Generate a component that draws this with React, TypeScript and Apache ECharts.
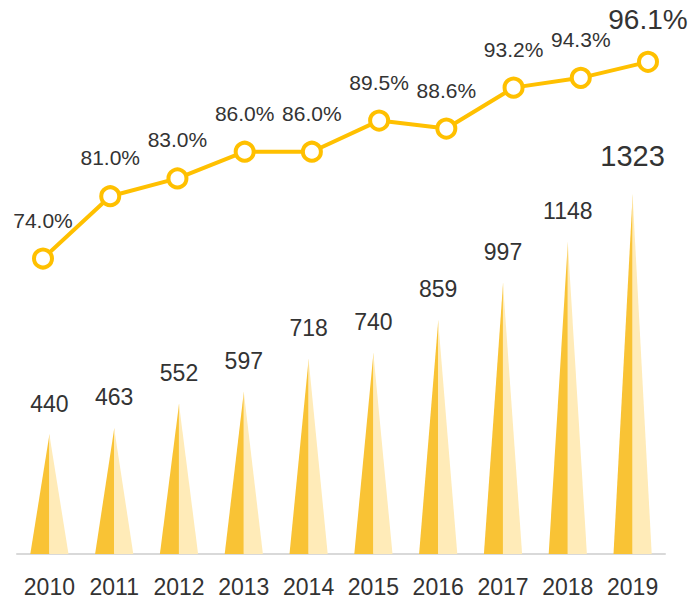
import React, { useEffect, useRef } from "react";
import * as echarts from "echarts";

const years = ["2010", "2011", "2012", "2013", "2014", "2015", "2016", "2017", "2018", "2019"];
const counts = [440, 463, 552, 597, 718, 740, 859, 997, 1148, 1323];
const rates = [74.0, 81.0, 83.0, 86.0, 86.0, 89.5, 88.6, 93.2, 94.3, 96.1];

const FONT = "'Liberation Sans', Arial, sans-serif";

export default function App() {
  const ref = useRef<HTMLDivElement>(null);
  useEffect(() => {
    if (!ref.current) return;
    const chart = echarts.init(ref.current, null, { renderer: "svg" });
    const last = counts.length - 1;
    chart.setOption({
      animation: false,
      grid: [
        { left: 17, right: 24, top: 20, bottom: 45 },
        { left: 43, right: 41, top: 20, bottom: 45 },
      ],
      xAxis: [
        {
          type: "category",
          data: years,
          gridIndex: 0,
          axisLine: { lineStyle: { color: "#d9d9d9", width: 2 } },
          axisTick: { show: false },
          axisLabel: { interval: 0, color: "#333", fontSize: 23, margin: 21, fontFamily: FONT },
        },
        {
          type: "category",
          data: years,
          gridIndex: 1,
          boundaryGap: false,
          show: false,
        },
      ],
      yAxis: [
        { type: "value", gridIndex: 0, min: 0, max: 1960, show: false },
        { type: "value", gridIndex: 1, min: 40.8, max: 100.8, show: false },
      ],
      series: [
        {
          type: "pictorialBar",
          xAxisIndex: 0,
          yAxisIndex: 0,
          barWidth: 38,
          barGap: "-100%",
          symbol: "path://M1,0 L1,1 L0,1 Z",
          symbolSize: [19, "100%"],
          symbolOffset: ["-50%", 0],
          itemStyle: { color: "#F9C335" },
          data: counts,
          z: 2,
        },
        {
          type: "pictorialBar",
          xAxisIndex: 0,
          yAxisIndex: 0,
          barWidth: 38,
          barGap: "-100%",
          symbol: "path://M0,0 L1,1 L0,1 Z",
          symbolSize: [19, "100%"],
          symbolOffset: ["50%", 0],
          itemStyle: { color: "#FFEBB8" },
          label: {
            show: true,
            position: "top",
            distance: 19,
            color: "#333",
            fontSize: 23,
            fontFamily: FONT,
          },
          data: counts.map((v, i) =>
            i === last ? { value: v, label: { fontSize: 29, distance: 23 } } : v
          ),
          z: 2,
        },
        {
          type: "line",
          xAxisIndex: 1,
          yAxisIndex: 1,
          symbol: "circle",
          symbolSize: 18,
          showAllSymbol: true,
          lineStyle: { color: "#FFC000", width: 4 },
          itemStyle: { color: "#fff", borderColor: "#FFC000", borderWidth: 4 },
          label: {
            show: true,
            position: "top",
            distance: 17,
            color: "#333",
            fontSize: 21,
            fontFamily: FONT,
            formatter: (p: any) => Number(p.value).toFixed(1) + "%",
          },
          data: rates.map((v, i) =>
            i === last ? { value: v, label: { fontSize: 28, distance: 17 } } : v
          ),
          z: 3,
        },
      ],
    });
    return () => chart.dispose();
  }, []);
  return (
    <div
      ref={ref}
      style={{ position: "fixed", left: 0, top: 0, width: 689, height: 599, background: "#fff" }}
    />
  );
}
